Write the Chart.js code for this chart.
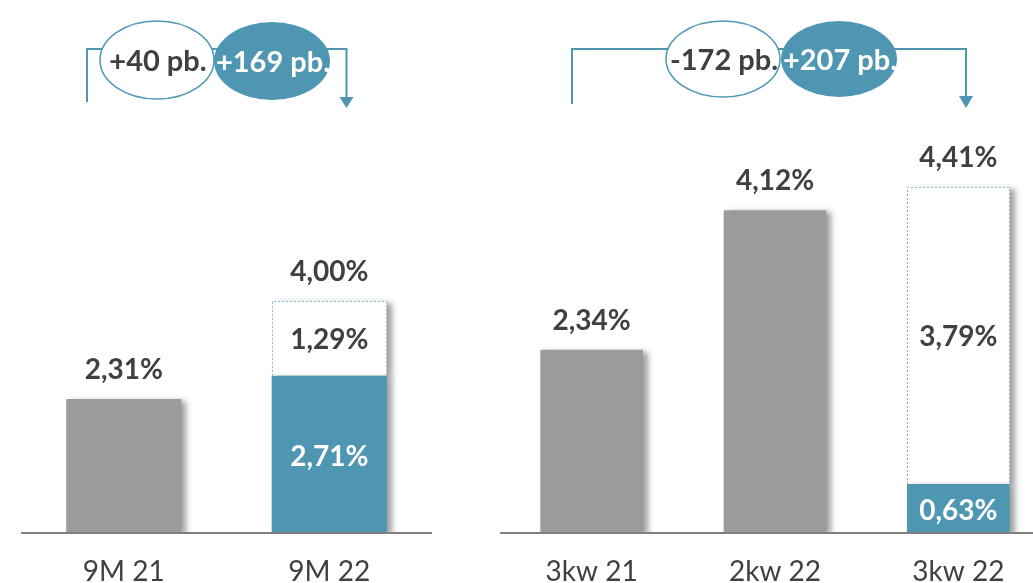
<!DOCTYPE html>
<html>
<head>
<meta charset="utf-8">
<script src="https://cdn.jsdelivr.net/npm/chart.js@4"></script>
<style>
  html, body { margin: 0; padding: 0; background: #fff; overflow: hidden; }
  body { width: 1033px; height: 583px; position: relative; }
  .panel { position: absolute; top: 0; }
  #left { left: 21px; }
  #right { left: 500px; }
</style>
</head>
<body>
<div class="panel" id="left"><canvas id="chartLeft" width="411" height="603"></canvas></div>
<div class="panel" id="right"><canvas id="chartRight" width="550" height="603"></canvas></div>
<script>
/* ---------- Data ---------- */
const leftCategories = ["9M 21", "9M 22"];
const leftBase = [2.31, 2.71];
const leftAdded = [null, 1.29];
const leftTotals = [2.31, 4.00];
const leftChanges = ["+40 pb.", "+169 pb."];

const rightCategories = ["3kw 21", "2kw 22", "3kw 22"];
const rightBase = [2.34, 4.12, 0.63];
const rightAdded = [null, null, 3.79];
const rightTotals = [2.34, 4.12, 4.41];
const rightChanges = ["-172 pb.", "+207 pb."];

/* ---------- Styles ---------- */
const BLUE = "#4f96b3";
const GRAY = "#9b9b9b";
const DARK = "#404040";
const DOT = "#7fb2c8";
const FONT = "Lato, 'Open Sans', sans-serif";

const fmt = (v) => v.toFixed(2).replace(".", ",") + "%";

// bracket + ellipses above each panel, page coordinates
const leftAnn = {
  x1: 87, x2: 346.5, lineY: 49, leftBottom: 102, arrowBase: 97, arrowTip: 108,
  e1: { cx: 157, cy: 60, rx: 57, ry: 39 },
  e2: { cx: 272, cy: 61, rx: 58, ry: 39 }
};
const rightAnn = {
  x1: 572, x2: 966, lineY: 49, leftBottom: 104, arrowBase: 96, arrowTip: 108,
  e1: { cx: 723, cy: 59, rx: 57, ry: 38 },
  e2: { cx: 839, cy: 59, rx: 58, ry: 38 }
};

function drawAnnotation(ctx, a, texts, offX) {
  ctx.save();
  ctx.translate(-offX, 0);
  ctx.strokeStyle = BLUE;
  ctx.fillStyle = BLUE;
  ctx.lineWidth = 2;
  ctx.beginPath();
  ctx.moveTo(a.x1, a.leftBottom);
  ctx.lineTo(a.x1, a.lineY);
  ctx.lineTo(a.x2, a.lineY);
  ctx.lineTo(a.x2, a.arrowBase);
  ctx.stroke();
  ctx.beginPath();
  ctx.moveTo(a.x2 - 7, a.arrowBase);
  ctx.lineTo(a.x2 + 7, a.arrowBase);
  ctx.lineTo(a.x2, a.arrowTip);
  ctx.closePath();
  ctx.fill();

  ctx.beginPath();
  ctx.ellipse(a.e1.cx, a.e1.cy, a.e1.rx, a.e1.ry, 0, 0, Math.PI * 2);
  ctx.fillStyle = "#fff";
  ctx.fill();
  ctx.lineWidth = 1.5;
  ctx.stroke();
  ctx.beginPath();
  ctx.ellipse(a.e2.cx, a.e2.cy, a.e2.rx, a.e2.ry, 0, 0, Math.PI * 2);
  ctx.fillStyle = BLUE;
  ctx.fill();

  ctx.font = "bold 29px " + FONT;
  ctx.textAlign = "center";
  ctx.textBaseline = "middle";
  ctx.fillStyle = DARK;
  ctx.fillText(texts[0], a.e1.cx + 1, a.e1.cy + 2);
  ctx.fillStyle = "#fff";
  ctx.fillText(texts[1], a.e2.cx + 1, a.e2.cy + 2);
  ctx.restore();
}

function makePlugin(totals, added, ann, changes, offX) {
  return {
    id: "custom",
    beforeDatasetsDraw(chart) {
      const c = chart.ctx;
      c.save();
      c.shadowColor = "rgba(0,0,0,0.38)";
      c.shadowBlur = 6;
      c.shadowOffsetX = 5;
      c.shadowOffsetY = 2;
    },
    afterDatasetsDraw(chart) {
      const c = chart.ctx;
      c.restore();
      const m0 = chart.getDatasetMeta(0).data;
      const m1 = chart.getDatasetMeta(1).data;

      // dotted outline of the added segment
      c.save();
      c.strokeStyle = DOT;
      c.lineWidth = 1;
      c.setLineDash([2, 2]);
      added.forEach((v, i) => {
        if (v == null) return;
        const p = m1[i].getProps(["x", "y", "base", "width"], true);
        const l = Math.round(p.x - p.width / 2) + 0.5;
        const r = Math.round(p.x + p.width / 2) - 0.5;
        const t = Math.round(p.y) + 0.5;
        c.beginPath();
        c.moveTo(l, p.base);
        c.lineTo(l, t);
        c.lineTo(r, t);
        c.lineTo(r, p.base);
        c.stroke();
      });
      c.restore();

      // labels
      c.save();
      c.font = "bold 28px " + FONT;
      c.textAlign = "center";
      c.textBaseline = "middle";
      totals.forEach((tot, i) => {
        const b = m0[i].getProps(["x", "y", "base"], true);
        let top = b.y;
        if (added[i] != null) {
          const a = m1[i].getProps(["x", "y", "base"], true);
          top = Math.min(top, a.y);
          c.fillStyle = "#fff";
          c.fillText(fmt(chart.data.datasets[0].data[i]), b.x, (b.y + b.base) / 2 + 2);
          c.fillStyle = DARK;
          c.fillText(fmt(added[i]), a.x, (a.y + a.base) / 2 + 2);
        }
        c.fillStyle = DARK;
        c.fillText(fmt(tot), b.x, top - 29);
      });
      c.restore();
    },
    afterDraw(chart) {
      drawAnnotation(chart.ctx, ann, changes, offX);
    }
  };
}

function build(id, categories, base, added, totals, yMax, ann, changes, offX) {
  new Chart(document.getElementById(id), {
    type: "bar",
    data: {
      labels: categories,
      datasets: [
        {
          data: base,
          backgroundColor: base.map((_, i) => added[i] != null ? BLUE : GRAY),
          borderWidth: 0
        },
        {
          data: added,
          backgroundColor: "#fff",
          borderWidth: 0
        }
      ]
    },
    options: {
      responsive: false,
      animation: false,
      devicePixelRatio: 1,
      layout: { padding: 0 },
      datasets: { bar: { categoryPercentage: 1, barPercentage: 0.56 } },
      plugins: { legend: { display: false }, tooltip: { enabled: false } },
      scales: {
        x: {
          stacked: true,
          grid: { display: false },
          border: { display: true, color: "#808080", width: 2, z: 1 },
          ticks: { color: DARK, font: { family: FONT, size: 28 }, padding: 14 }
        },
        y: {
          stacked: true,
          display: false,
          min: 0,
          max: yMax
        }
      }
    },
    plugins: [makePlugin(totals, added, ann, changes, offX)]
  });
}

build("chartLeft", leftCategories, leftBase, leftAdded, leftTotals, 9.17, leftAnn, leftChanges, 21);
build("chartRight", rightCategories, rightBase, rightAdded, rightTotals, 6.80, rightAnn, rightChanges, 500);
</script>
</body>
</html>
